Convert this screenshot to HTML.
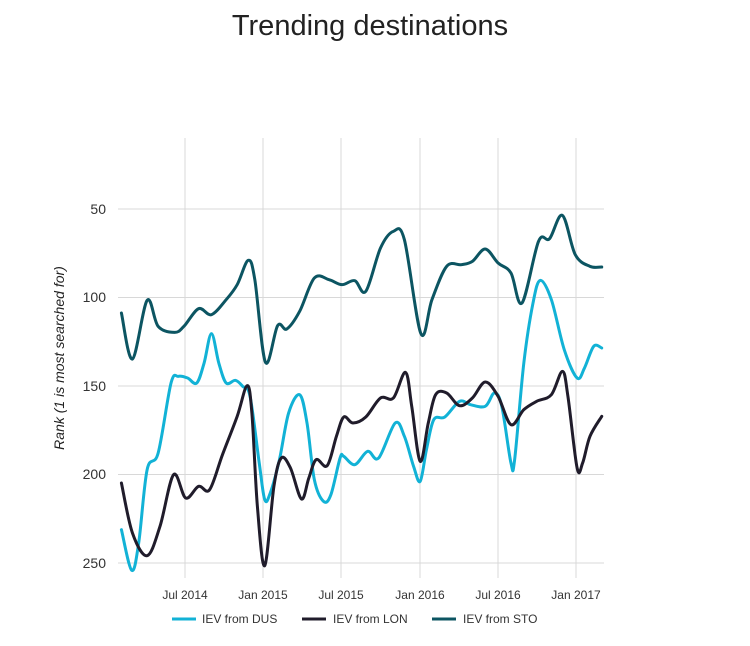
<!DOCTYPE html>
<html><head><meta charset="utf-8"><style>
body{margin:0;background:#fff;}
svg{display:block;font-family:"Liberation Sans",Arial,sans-serif;}
</style></head><body>
<svg width="750" height="646" viewBox="0 0 750 646">
<text x="370" y="35" font-size="29" fill="#222" text-anchor="middle">Trending destinations</text>
<g stroke="#d8d8d8" stroke-width="1">
<line x1="118" x2="604" y1="209" y2="209"/><line x1="118" x2="604" y1="297.5" y2="297.5"/>
<line x1="118" x2="604" y1="386" y2="386"/><line x1="118" x2="604" y1="474.5" y2="474.5"/>
<line x1="118" x2="604" y1="563" y2="563"/>
<line x1="185" x2="185" y1="138" y2="578"/><line x1="263" x2="263" y1="138" y2="578"/>
<line x1="341" x2="341" y1="138" y2="578"/><line x1="420" x2="420" y1="138" y2="578"/>
<line x1="498" x2="498" y1="138" y2="578"/><line x1="576" x2="576" y1="138" y2="578"/>
</g>
<g font-size="14" fill="#333" text-anchor="end">
<text x="106" y="214">50</text><text x="106" y="302">100</text><text x="106" y="391">150</text>
<text x="106" y="479">200</text><text x="106" y="568">250</text>
</g>
<g font-size="12" fill="#333" text-anchor="middle">
<text x="185" y="599">Jul 2014</text><text x="263" y="599">Jan 2015</text><text x="341" y="599">Jul 2015</text>
<text x="420" y="599">Jan 2016</text><text x="498" y="599">Jul 2016</text><text x="576" y="599">Jan 2017</text>
</g>
<text transform="translate(64,358) rotate(-90)" font-size="14" font-style="italic" fill="#222" text-anchor="middle">Rank (1 is most searched for)</text>
<g transform="translate(42.4,129.7) scale(0.3675,0.3333)" fill="none" stroke-width="3" stroke-linejoin="round" stroke-linecap="round">
<path id="dus" stroke="#12b2d6" vector-effect="non-scaling-stroke"/>
<path id="lon" stroke="#201c2b" vector-effect="non-scaling-stroke"/>
<path id="sto" stroke="#0c5562" vector-effect="non-scaling-stroke"/>
</g>
<g font-size="12" fill="#333">
<line x1="172" x2="196" y1="619" y2="619" stroke="#12b2d6" stroke-width="3"/><text x="202" y="623">IEV from DUS</text>
<line x1="302" x2="326" y1="619" y2="619" stroke="#201c2b" stroke-width="3"/><text x="333" y="623">IEV from LON</text>
<line x1="432" x2="456" y1="619" y2="619" stroke="#0c5562" stroke-width="3"/><text x="463" y="623">IEV from STO</text>
</g>
</svg>
<script>
var D={
sto:[215,550,245,688,285,512,315,590,360,608,385,590,425,537,460,555,500,510,530,465,560,392,578,450,607,698,640,588,665,598,700,545,740,445,780,450,815,465,850,453,880,485,920,355,955,305,985,330,1030,612,1060,510,1100,410,1140,405,1170,395,1205,358,1240,400,1275,430,1305,520,1350,335,1380,327,1415,257,1450,375,1490,410,1522,412],
dus:[215,1200,243,1322,262,1240,285,1020,315,970,350,760,370,740,395,745,420,760,440,700,460,612,480,700,500,760,525,752,545,770,565,800,590,1000,605,1110,620,1090,645,990,670,850,700,795,720,880,740,1050,765,1115,785,1095,810,985,820,980,850,1005,885,965,915,985,960,880,985,920,1010,1010,1028,1055,1045,960,1065,870,1095,862,1135,815,1165,825,1205,830,1230,790,1250,830,1275,1000,1285,990,1310,700,1335,520,1355,452,1385,510,1420,660,1455,745,1475,715,1500,650,1522,655],
lon:[215,1060,245,1210,285,1278,320,1190,357,1035,390,1105,425,1070,455,1080,490,975,530,860,557,768,570,850,585,1130,605,1308,630,1070,650,985,675,1015,705,1108,725,1045,745,990,775,1008,800,920,820,862,845,880,880,862,920,805,955,805,988,728,1005,830,1028,995,1050,880,1070,795,1100,790,1135,828,1170,805,1205,757,1240,800,1275,885,1310,840,1345,815,1385,795,1415,725,1430,800,1455,1015,1470,1000,1490,920,1522,860]};
for(var k in D){var a=D[k],p=[];for(var i=0;i<a.length;i+=2)p.push([a[i],a[i+1]]);
var d="M"+p[0][0]+","+p[0][1];
for(var i=0;i<p.length-1;i++){var p0=p[i-1]||p[i],p1=p[i],p2=p[i+1],p3=p[i+2]||p2;
d+="C"+(p1[0]+(p2[0]-p0[0])/6)+","+(p1[1]+(p2[1]-p0[1])/6)+" "+(p2[0]-(p3[0]-p1[0])/6)+","+(p2[1]-(p3[1]-p1[1])/6)+" "+p2[0]+","+p2[1];}
document.getElementById(k).setAttribute("d",d);}
</script>
</body></html>
